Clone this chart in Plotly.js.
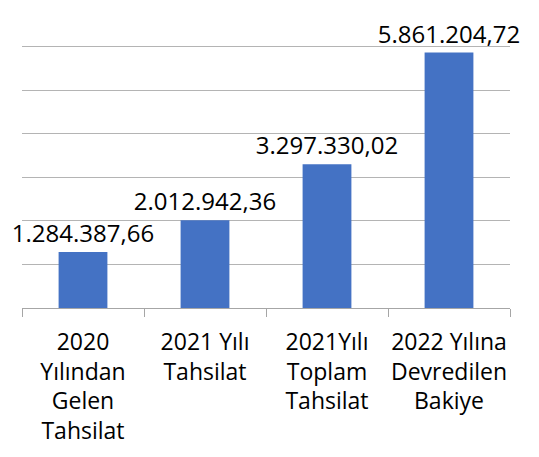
<!DOCTYPE html>
<html><head><meta charset="utf-8">
<script src="https://cdn.plot.ly/plotly-3.0.1.min.js"></script>
<style>html,body{margin:0;padding:0;background:#fff;}#chart{width:539px;height:457px;}</style>
</head><body><div id="chart"></div>
<script>
const categories = ["2020<br>Yılından<br>Gelen<br>Tahsilat", "2021 Yılı<br>Tahsilat", "2021Yılı<br>Toplam<br>Tahsilat", "2022 Yılına<br>Devredilen<br>Bakiye"];
const values = [1284387.66, 2012942.36, 3297330.02, 5861204.72];
const valueLabels = ["1.284.387,66", "2.012.942,36", "3.297.330,02", "5.861.204,72"];

const trace = {
  type: 'bar', x: categories, y: values, text: valueLabels,
  textposition: 'outside', constraintext: 'none', cliponaxis: false,
  textfont: {family: 'Open Sans', size: 24, color: '#000'},
  marker: {color: '#4472C4', line: {width: 0}},
  hoverinfo: 'none'
};
const layout = {
  width: 539, height: 457,
  margin: {l: 22, r: 29, t: 3, b: 149},
  paper_bgcolor: '#fff', plot_bgcolor: '#fff',
  bargap: 0.6, showlegend: false,
  font: {family: 'Open Sans', size: 24, color: '#000'},
  xaxis: {
    type: 'category', tickson: 'boundaries', ticks: 'outside', ticklen: 8,
    tickangle: 0, ticklabelstandoff: 13,
    tickcolor: '#a6a6a6', showline: true, linecolor: '#a6a6a6', linewidth: 1,
    showgrid: false, tickfont: {family: 'Open Sans', size: 23, color: '#000'},
    fixedrange: true
  },
  yaxis: {
    range: [0, 7000000], dtick: 1000000, showticklabels: false,
    showgrid: true, gridcolor: '#b4b4b4', gridwidth: 1, zeroline: false,
    showline: false, ticks: '', fixedrange: true
  }
};
Plotly.newPlot('chart', [trace], layout, {displayModeBar: false, staticPlot: true});
</script></body></html>
